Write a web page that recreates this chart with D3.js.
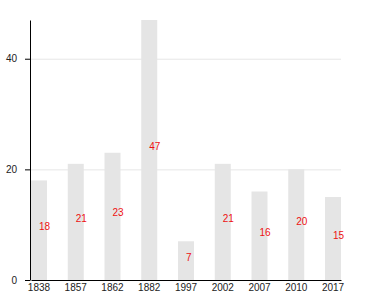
<!DOCTYPE html>
<html>
<head>
<meta charset="utf-8">
<script src="https://cdn.jsdelivr.net/npm/d3@7"></script>
<style>
  body { margin: 0; background: #fff; }
  text { font-family: "Liberation Sans", Arial, sans-serif; }
</style>
</head>
<body>
<div id="chart"></div>
<script>
// data
const years = ["1838", "1857", "1862", "1882", "1997", "2002", "2007", "2010", "2017"];
const counts = [18, 21, 23, 47, 7, 21, 16, 20, 15];
const yTicks = [0, 20, 40];

const width = 380, height = 300;
const margin = { top: 20, right: 39, bottom: 20, left: 30 };

const svg = d3.select("#chart")
    .append("svg")
    .attr("width", width)
    .attr("height", height)
    .append("g")
    .attr("transform", "translate(" + margin.left + "," + margin.top + ")");

const w = width - margin.left - margin.right;
const h = height - margin.top - margin.bottom;

const x = d3.scaleBand()
    .domain(years)
    .range([1, w])
    .paddingInner(0.565)
    .paddingOuter(0);

const y = d3.scaleLinear()
    .domain([0, d3.max(counts)])
    .range([h, 0]);

// grid lines
svg.append("g")
    .selectAll("line")
    .data(yTicks.filter(d => d > 0))
    .join("line")
    .attr("x1", 0)
    .attr("x2", w)
    .attr("y1", d => y(d) + 0.5)
    .attr("y2", d => y(d) + 0.5)
    .style("stroke", "#e6e6e6")
    .style("stroke-width", 1);

// bars
svg.append("g")
    .selectAll("rect")
    .data(counts)
    .join("rect")
    .attr("x", (d, i) => x(years[i]))
    .attr("y", d => y(d))
    .attr("width", x.bandwidth())
    .attr("height", d => h - y(d))
    .style("fill", "#e5e5e5");

// value labels
svg.append("g")
    .selectAll("text")
    .data(counts)
    .join("text")
    .attr("x", (d, i) => x(years[i]) + x.bandwidth() / 2)
    .attr("y", d => (y(d) + h) / 2)
    .attr("text-anchor", "start")
    .style("font-size", "10px")
    .style("fill", "#ee1111")
    .text(d => d);

// axes
const yAxis = svg.append("g")
    .call(d3.axisLeft(y).tickValues(yTicks).tickSize(5).tickSizeOuter(0).tickPadding(8));
yAxis.selectAll("text").style("font-size", "10px").style("fill", "#222");
yAxis.select(".domain").style("stroke", "#000");

const xAxis = svg.append("g")
    .attr("transform", "translate(0," + h + ")")
    .call(d3.axisBottom(x).tickSize(0).tickSizeOuter(0).tickPadding(4));
xAxis.selectAll("text").style("font-size", "10px").style("fill", "#222");
xAxis.select(".domain").style("stroke", "#000");
</script>
</body>
</html>
